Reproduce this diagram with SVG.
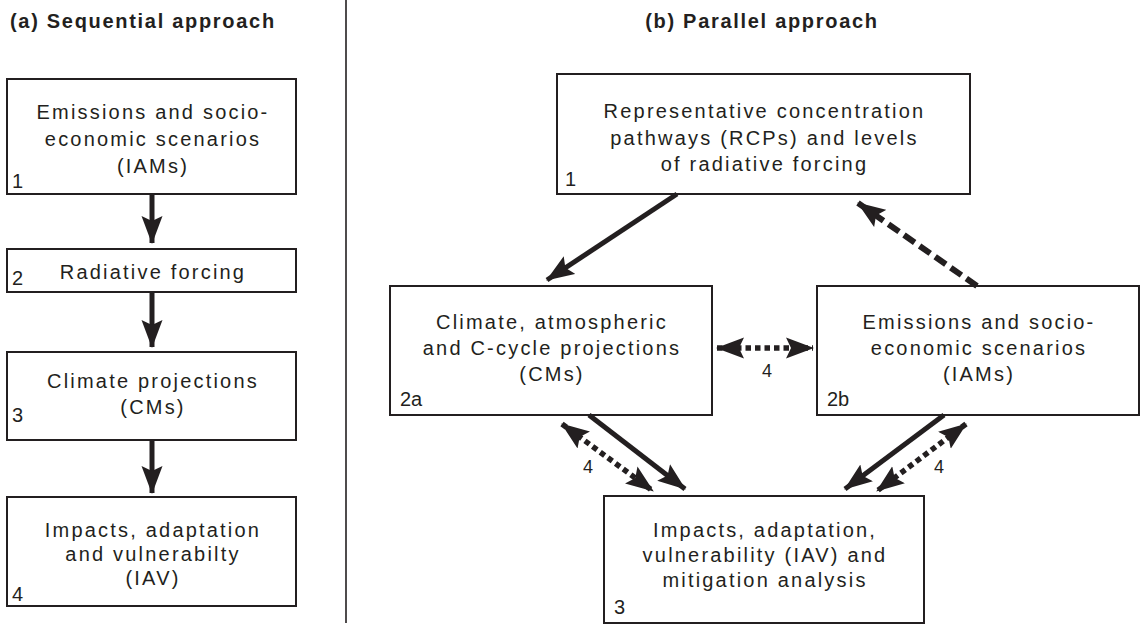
<svg xmlns="http://www.w3.org/2000/svg" width="1143" height="626" viewBox="0 0 1143 626">
  <style>
    .bg { fill: #ffffff; }
    .box { fill: #ffffff; stroke: #231f20; stroke-width: 2; }
    .t { font-family: "Liberation Sans", Arial, Helvetica, sans-serif; font-size: 20px; letter-spacing: 2.2px; fill: #231f20; text-anchor: middle; }
    .num { font-family: "Liberation Sans", Arial, Helvetica, sans-serif; font-size: 20px; fill: #231f20; }
    .lbl { font-family: "Liberation Sans", Arial, Helvetica, sans-serif; font-size: 18px; fill: #231f20; text-anchor: middle; }
    .title { font-family: "Liberation Sans", Arial, Helvetica, sans-serif; font-size: 20px; font-weight: bold; letter-spacing: 1.7px; fill: #231f20; }
    .solid { fill: none; stroke: #231f20; stroke-width: 5; }
    .dashed { fill: none; stroke: #231f20; stroke-width: 6; stroke-dasharray: 13 6; }
    .dotted { fill: none; stroke: #231f20; stroke-width: 5.5; stroke-dasharray: 5.5 4; }
    .divider { stroke: #231f20; stroke-width: 1.6; }
  </style>
  <defs>
    <marker id="head" viewBox="0 -11 28 22" refX="27" refY="0" markerWidth="28" markerHeight="22" markerUnits="userSpaceOnUse" orient="auto-start-reverse">
      <path d="M0,-10.5 L28,0 L0,10.5 L5,0 Z" fill="#231f20"/>
    </marker>
  </defs>

  <rect class="bg" x="0" y="0" width="1143" height="626"/>

  <!-- panel titles and divider -->
  <text class="title" x="10" y="28">(a) Sequential approach</text>
  <text class="title" x="762" y="28" text-anchor="middle">(b) Parallel approach</text>
  <line class="divider" x1="346" y1="0" x2="346" y2="623"/>

  <!-- (a) sequential chain -->
  <g id="seq-1">
    <rect class="box" x="7" y="79" width="289" height="115"/>
    <text class="t" x="153" y="119">Emissions and socio-</text>
    <text class="t" x="153" y="146">economic scenarios</text>
    <text class="t" x="153" y="173">(IAMs)</text>
    <text class="num" x="12" y="188">1</text>
  </g>
  <g id="seq-2">
    <rect class="box" x="7" y="249" width="289" height="43"/>
    <text class="t" x="153" y="279">Radiative forcing</text>
    <text class="num" x="12" y="285">2</text>
  </g>
  <g id="seq-3">
    <rect class="box" x="7" y="352" width="289" height="88"/>
    <text class="t" x="153" y="388">Climate projections</text>
    <text class="t" x="153" y="414">(CMs)</text>
    <text class="num" x="12" y="422">3</text>
  </g>
  <g id="seq-4">
    <rect class="box" x="7" y="497" width="289" height="109"/>
    <text class="t" x="153" y="537">Impacts, adaptation</text>
    <text class="t" x="153" y="561">and vulnerabilty</text>
    <text class="t" x="153" y="585">(IAV)</text>
    <text class="num" x="12" y="601">4</text>
  </g>

  <!-- (b) parallel scheme -->
  <g id="par-1">
    <rect class="box" x="557" y="74" width="413" height="120"/>
    <text class="t" x="764.5" y="118">Representative concentration</text>
    <text class="t" x="764.5" y="145">pathways (RCPs) and levels</text>
    <text class="t" x="764.5" y="171">of radiative forcing</text>
    <text class="num" x="565" y="186">1</text>
  </g>
  <g id="par-2a">
    <rect class="box" x="390" y="286" width="322" height="129"/>
    <text class="t" x="552" y="329">Climate, atmospheric</text>
    <text class="t" x="552" y="355">and C-cycle projections</text>
    <text class="t" x="552" y="381">(CMs)</text>
    <text class="num" x="400" y="406">2a</text>
  </g>
  <g id="par-2b">
    <rect class="box" x="817" y="286" width="322" height="129"/>
    <text class="t" x="979" y="329">Emissions and socio-</text>
    <text class="t" x="979" y="355">economic scenarios</text>
    <text class="t" x="979" y="381">(IAMs)</text>
    <text class="num" x="827" y="406">2b</text>
  </g>
  <g id="par-3">
    <rect class="box" x="604" y="496" width="320" height="127"/>
    <text class="t" x="765" y="537">Impacts, adaptation,</text>
    <text class="t" x="765" y="562">vulnerability (IAV) and</text>
    <text class="t" x="765" y="587">mitigation analysis</text>
    <text class="num" x="614" y="614">3</text>
  </g>

  <!-- connectors -->
  <g id="connectors">
    <path class="solid" d="M152,194 L152,243" marker-end="url(#head)"/>
    <path class="solid" d="M152,292 L152,347" marker-end="url(#head)"/>
    <path class="solid" d="M152,440 L152,493" marker-end="url(#head)"/>

    <path class="solid" d="M677,194 L547,280" marker-end="url(#head)"/>
    <path class="dashed" d="M977,286 L858,203" marker-end="url(#head)"/>
    <path class="dotted" d="M717,348 L813,348" marker-start="url(#head)" marker-end="url(#head)"/>
    <path class="solid" d="M589,415 L685,489" marker-end="url(#head)"/>
    <path class="dotted" d="M562,424 L653,491" marker-start="url(#head)" marker-end="url(#head)"/>
    <path class="solid" d="M944,415 L845,489" marker-end="url(#head)"/>
    <path class="dotted" d="M966,424 L877,491" marker-start="url(#head)" marker-end="url(#head)"/>

    <text class="lbl" x="767" y="377">4</text>
    <text class="lbl" x="588" y="473">4</text>
    <text class="lbl" x="939" y="473">4</text>
  </g>
</svg>
